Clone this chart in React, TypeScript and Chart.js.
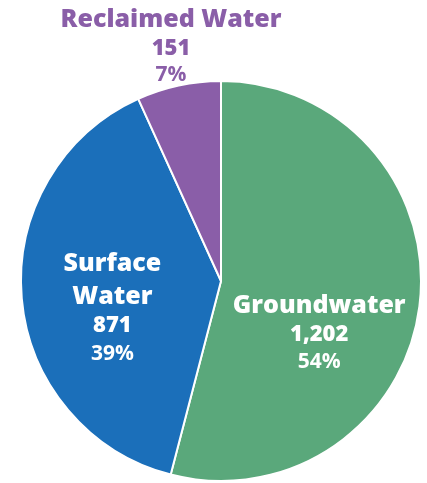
import React, { useEffect, useRef } from "react";
import { Chart, registerables } from "chart.js";

Chart.register(...registerables);

const categories = ["Groundwater", "Surface Water", "Reclaimed Water"];
const values = [1202, 871, 151];
const percents = ["54%", "39%", "7%"];
const valueLabels = ["1,202", "871", "151"];
const colors = ["#5aa87b", "#1b6fba", "#8a5ea8"];

const FONT = "'Open Sans', 'Noto Sans', sans-serif";

const labelPlugin = {
  id: "sliceLabels",
  afterDatasetsDraw(chart: any) {
    const ctx = chart.ctx;
    const meta = chart.getDatasetMeta(0);
    ctx.save();
    ctx.textAlign = "center";
    ctx.textBaseline = "middle";
    meta.data.forEach((arc: any, i: number) => {
      const pos = arc.tooltipPosition();
      const { x, y, outerRadius } = arc.getProps(["x", "y", "outerRadius"], true);
      let lines: { t: string; size: number; w: number }[] = [];
      let cx = pos.x;
      let cy = pos.y;
      let gap: number[] = [];
      let color = "#ffffff";
      if (i === 0) {
        lines = [
          { t: categories[0], size: 25, w: 800 },
          { t: valueLabels[0], size: 22, w: 800 },
          { t: percents[0], size: 21, w: 700 },
        ];
        cx = pos.x - 1;
        cy = pos.y + 12;
        gap = [0, 29, 56];
      } else if (i === 1) {
        lines = [
          { t: "Surface", size: 25, w: 800 },
          { t: "Water", size: 25, w: 800 },
          { t: valueLabels[1], size: 22, w: 800 },
          { t: percents[1], size: 21, w: 700 },
        ];
        cx = pos.x - 9;
        cy = pos.y - 26;
        gap = [0, 33, 62, 90];
      } else {
        lines = [
          { t: categories[2], size: 25, w: 800 },
          { t: valueLabels[2], size: 22, w: 800 },
          { t: percents[2], size: 21, w: 700 },
        ];
        color = colors[2];
        cx = x - 50;
        cy = y - outerRadius - 61;
        gap = [0, 29, 55];
      }
      ctx.fillStyle = color;
      lines.forEach((l, k) => {
        ctx.font = `${l.w} ${l.size}px ${FONT}`;
        ctx.fillText(l.t, cx, cy + gap[k]);
      });
    });
    ctx.restore();
  },
};

export default function App() {
  const ref = useRef<HTMLCanvasElement>(null);
  useEffect(() => {
    document.body.style.margin = "0";
    const chart = new Chart(ref.current!, {
      type: "pie",
      data: {
        labels: categories,
        datasets: [
          {
            data: values,
            backgroundColor: colors,
            borderColor: "#ffffff",
            borderWidth: 2,
          },
        ],
      },
      options: {
        animation: false,
        responsive: false,
        maintainAspectRatio: false,
        layout: { padding: { top: 80, bottom: 1, left: 20, right: 5 } },
        plugins: {
          legend: { display: false },
          tooltip: { enabled: false },
        },
      },
      plugins: [labelPlugin],
    });
    return () => chart.destroy();
  }, []);
  return (
    <div style={{ width: 427, height: 483, background: "#fff" }}>
      <canvas ref={ref} width={427} height={483} style={{ width: 427, height: 483 }} />
    </div>
  );
}
